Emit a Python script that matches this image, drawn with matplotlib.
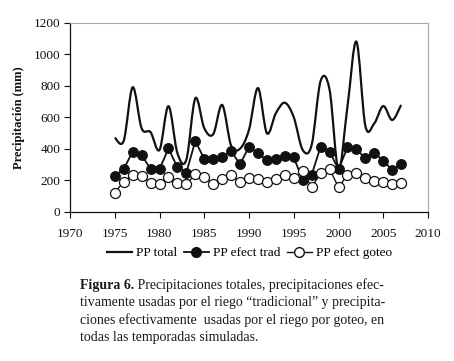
import matplotlib
matplotlib.use("Agg")
import matplotlib.pyplot as plt
from matplotlib.path import Path
from matplotlib.patches import PathPatch
from matplotlib.lines import Line2D
import numpy as np

years = list(range(1975, 2008))
pp_total = [470, 450, 790, 530, 505, 392, 670, 372, 330, 720, 530, 492, 678, 420, 400, 520,
            785, 498, 625, 692, 600, 392, 424, 830, 775, 265, 667, 1080, 545, 561, 671, 582, 678]
pp_trad = [227, 271, 381, 360, 271, 269, 402, 282, 248, 449, 335, 335, 345, 385, 301, 413,
           371, 328, 333, 356, 345, 201, 233, 413, 381, 269, 408, 396, 339, 375, 324, 265, 303]
pp_goteo = [121, 191, 233, 227, 184, 174, 218, 180, 174, 239, 218, 174, 210, 231, 187, 212,
            206, 187, 206, 233, 212, 260, 155, 244, 271, 155, 233, 244, 212, 195, 191, 176, 180]
labels = ["PP total", "PP efect trad", "PP efect goteo"]
xticks = list(range(1970, 2011, 5))
yticks = list(range(0, 1201, 200))

plt.rcParams['font.family'] = ['Liberation Serif', 'DejaVu Serif']

fig = plt.figure(figsize=(4.54, 3.61), dpi=100)
ax = fig.add_axes([70/454, 1-211.7/361, (428-70)/454, (211.7-22.7)/361])

# smoothed line (Catmull-Rom style, like Excel smoothing)
x = np.array(years, dtype=float)
y = np.array(pp_total, dtype=float)
n = len(x)
verts = [(x[0], y[0])]
codes = [Path.MOVETO]
for i in range(n - 1):
    p0 = np.array([x[max(i-1, 0)], y[max(i-1, 0)]])
    p1 = np.array([x[i], y[i]])
    p2 = np.array([x[i+1], y[i+1]])
    p3 = np.array([x[min(i+2, n-1)], y[min(i+2, n-1)]])
    c1 = p1 + (p2 - p0) / 6.0
    c2 = p2 - (p3 - p1) / 6.0
    verts += [tuple(c1), tuple(c2), tuple(p2)]
    codes += [Path.CURVE4] * 3
patch = PathPatch(Path(verts, codes), facecolor='none', edgecolor='#111111', lw=1.6,
                  joinstyle='round', capstyle='butt', zorder=2)
ax.add_patch(patch)

ax.plot(years, pp_trad, color='#111111', lw=1.3, marker='o', ms=7, mfc='#111111',
        mec='#111111', mew=0.8, zorder=3)
ax.plot(years, pp_goteo, color='#111111', lw=1.0, marker='o', ms=7.2, mfc='white',
        mec='#111111', mew=0.9, zorder=4)

ax.set_xlim(1970, 2010)
ax.set_ylim(0, 1200)
ax.set_xticks(xticks)
ax.set_yticks(yticks)
ax.tick_params(direction='out', length=4, width=0.8, labelsize=9.5, colors='#111111', pad=3)
ax.tick_params(axis='x', pad=8)
for s in ['top', 'right']:
    ax.spines[s].set_color('#a8a8a8')
    ax.spines[s].set_linewidth(0.8)
for s in ['left', 'bottom']:
    ax.spines[s].set_color('#111111')
    ax.spines[s].set_linewidth(0.9)
ax.set_ylabel("Precipitación (mm)", fontsize=9, fontweight='bold', labelpad=6, color='#111111')

handles = [
    Line2D([], [], color='#111111', lw=1.6),
    Line2D([], [], color='#111111', lw=1.3, marker='o', ms=7, mfc='#111111', mec='#111111'),
    Line2D([], [], color='#111111', lw=1.0, marker='o', ms=7, mfc='white', mec='#111111'),
]
fig.legend(handles, labels, loc='center', bbox_to_anchor=(249.5/454, 1-253/361), ncol=3,
           frameon=False, fontsize=9.5, handlelength=1.9, handletextpad=0.3,
           columnspacing=0.5, numpoints=1)

cap_x = 80/454
cap_fs = 10
t1 = fig.text(cap_x, 1-285/361, "Figura 6.", fontsize=cap_fs, fontweight='bold',
              va='center', ha='left', color='#1a1a1a')
fig.add_artist(plt.Annotation(" Precipitaciones totales, precipitaciones efec-", xy=(1, 0.5),
                              xycoords=t1, va='center', ha='left', fontsize=cap_fs,
                              color='#1a1a1a'))
cap_lines = ["tivamente usadas por el riego “tradicional” y precipita-",
             "ciones efectivamente  usadas por el riego por goteo, en",
             "todas las temporadas simuladas."]
for k, line in enumerate(cap_lines):
    fig.text(cap_x, 1-(302.5 + 17.3*k)/361, line, fontsize=cap_fs, va='center', ha='left',
             color='#1a1a1a')

fig.savefig("out.png", dpi=100)
